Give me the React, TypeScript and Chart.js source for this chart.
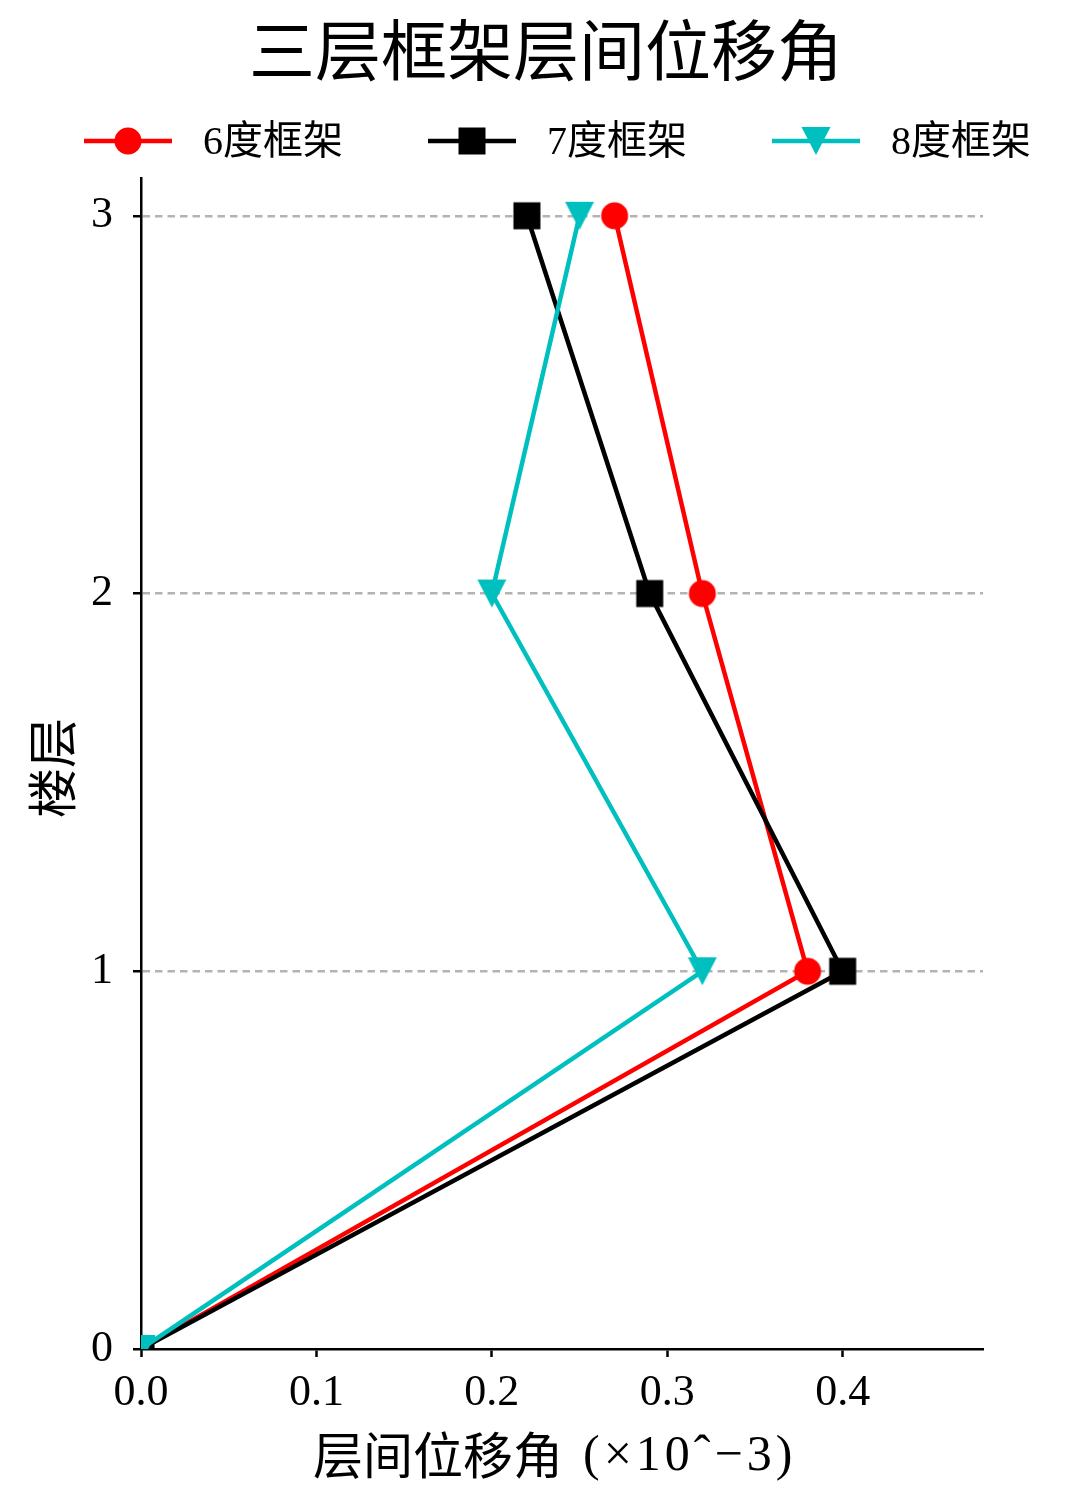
import React, { useEffect, useRef } from "react";
import { Chart, registerables } from "chart.js";

Chart.register(...registerables);

const TITLE = "三层框架层间位移角";
const X_LABEL_CJK = "层间位移角";
const X_LABEL_UNIT = "(×10ˆ−3)";
const Y_LABEL = "楼层";
const SERIES_NAMES = ["6度框架", "7度框架", "8度框架"];
const FLOORS = [0, 1, 2, 3];
const DRIFT_6 = [0, 0.38, 0.32, 0.27];
const DRIFT_7 = [0, 0.40, 0.29, 0.22];
const DRIFT_8 = [0, 0.32, 0.20, 0.25];
const COLORS = ["#ff0000", "#000000", "#00bfbf"];

const FONT = '"Liberation Serif", "Noto Sans CJK SC", serif';
const CJK = '"Noto Sans CJK SC", sans-serif';

const W = 1080;
const H = 1508;
const AREA = { left: 141, right: 983, top: 178, bottom: 1349 };

function drawMarker(ctx: CanvasRenderingContext2D, kind: number, x: number, y: number) {
  ctx.save();
  ctx.fillStyle = COLORS[kind];
  ctx.beginPath();
  if (kind === 0) {
    ctx.arc(x, y, 13.5, 0, Math.PI * 2);
  } else if (kind === 1) {
    ctx.rect(x - 13.5, y - 13.5, 27, 27);
  } else {
    ctx.moveTo(x - 14.5, y - 14);
    ctx.lineTo(x + 14.5, y - 14);
    ctx.lineTo(x, y + 14);
    ctx.closePath();
  }
  ctx.fill();
  ctx.restore();
}

function markerCanvas(kind: number) {
  const c = document.createElement("canvas");
  c.width = 30;
  c.height = 30;
  const ctx = c.getContext("2d")!;
  drawMarker(ctx, kind, 15, 15);
  return c;
}

export default function App() {
  const ref = useRef<HTMLCanvasElement | null>(null);

  useEffect(() => {
    document.body.style.margin = "0";
    const canvas = ref.current!;
    const seriesData = [DRIFT_6, DRIFT_7, DRIFT_8].map((arr) =>
      arr.map((x, i) => ({ x, y: FLOORS[i] }))
    );
    const markers = [0, 1, 2].map((k) => markerCanvas(k));

    const overlay = {
      id: "overlay",
      beforeDraw(chart: any) {
        const ctx = chart.ctx;
        ctx.save();
        ctx.fillStyle = "#ffffff";
        ctx.fillRect(0, 0, W, H);
        ctx.restore();
      },
      afterDraw(chart: any) {
        const ctx = chart.ctx;
        ctx.save();
        ctx.fillStyle = "#000";
        ctx.textAlign = "center";
        ctx.textBaseline = "middle";
        ctx.font = `66px ${FONT}`;
        ctx.fillText(TITLE, 546, 58);

        // x label
        ctx.textAlign = "left";
        ctx.font = `50px ${CJK}`;
        ctx.fillText(X_LABEL_CJK, 313, 1455);
        ctx.font = `50px "Liberation Serif", serif`;
        (ctx as any).letterSpacing = "4px";
        ctx.fillText(X_LABEL_UNIT, 583, 1457);
        (ctx as any).letterSpacing = "0px";

        ctx.textAlign = "center";
        ctx.font = `50px ${CJK}`;
        ctx.save();
        ctx.translate(52, 768);
        ctx.rotate(-Math.PI / 2);
        ctx.fillText(Y_LABEL, 0, 0);
        ctx.restore();

        // legend
        const startX = [84, 428, 772];
        ctx.textAlign = "left";
        ctx.font = `40px ${FONT}`;
        for (let i = 0; i < 3; i++) {
          const x0 = startX[i];
          const y = 141;
          ctx.strokeStyle = COLORS[i];
          ctx.lineWidth = 4.5;
          ctx.beginPath();
          ctx.moveTo(x0, y);
          ctx.lineTo(x0 + 88, y);
          ctx.stroke();
          drawMarker(ctx, i, x0 + 44, y);
          ctx.fillStyle = "#000";
          ctx.fillText(SERIES_NAMES[i], x0 + 119, y + 2);
        }
        ctx.restore();
      },
    };

    const chart = new Chart(canvas, {
      type: "line",
      data: {
        datasets: seriesData.map((d, i) => ({
          label: SERIES_NAMES[i],
          data: d,
          borderColor: COLORS[i],
          backgroundColor: COLORS[i],
          borderWidth: 4.5,
          pointStyle: markers[i] as any,
          pointRadius: 15,
          pointBorderWidth: 0,
          pointBackgroundColor: COLORS[i],
          tension: 0,
          fill: false,
          clip: 0 as any,
          order: 3 - i,
        })),
      },
      options: {
        responsive: false,
        animation: false,
        devicePixelRatio: 1,
        layout: {
          padding: { left: 0, top: AREA.top, right: W - AREA.right, bottom: 0 },
        },
        plugins: {
          legend: { display: false },
          title: { display: false },
          tooltip: { enabled: false },
        },
        scales: {
          x: {
            type: "linear",
            min: 0,
            max: 0.48,
            position: "bottom",
            afterFit(scale: any) {
              scale.height = H - AREA.bottom;
            },
            ticks: {
              stepSize: 0.1,
              includeBounds: false,
              color: "#000",
              font: { family: FONT, size: 44 },
              padding: 10,
              maxRotation: 0,
              autoSkip: false,
              callback: (v: any) => Number(v).toFixed(1),
            },
            grid: {
              drawOnChartArea: false,
              drawTicks: true,
              tickLength: 8,
              tickColor: "#000",
              tickWidth: 2.5,
            },
            border: { display: true, color: "#000", width: 2.5 },
          },
          y: {
            type: "linear",
            min: 0,
            max: 3.1,
            afterFit(scale: any) {
              scale.width = AREA.left;
            },
            ticks: {
              stepSize: 1,
              includeBounds: false,
              color: "#000",
              font: { family: FONT, size: 44 },
              padding: 20,
              autoSkip: false,
              callback: (v: any) => String(Math.round(Number(v))),
            },
            grid: {
              drawOnChartArea: true,
              drawTicks: true,
              tickLength: 8,
              tickColor: "#000",
              tickWidth: 2.5,
              tickBorderDash: [],
              lineWidth: 2.5,
              color: (c: any) =>
                c.tick && c.tick.value === 0 ? "rgba(0,0,0,0)" : "#b3b3b3",
            },
            border: { display: true, color: "#000", width: 2.5, dash: [7.5, 5] },
          },
        },
      },
      plugins: [overlay],
    });

    return () => chart.destroy();
  }, []);

  return (
    <div style={{ position: "absolute", left: 0, top: 0, width: W, height: H }}>
      <canvas ref={ref} width={W} height={H} style={{ width: W, height: H, display: "block" }} />
    </div>
  );
}
